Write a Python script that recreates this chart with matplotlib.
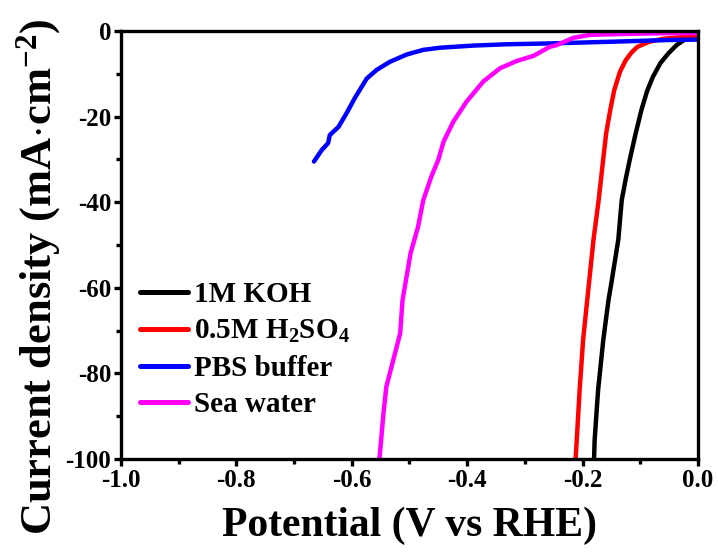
import matplotlib
matplotlib.use("Agg")
import matplotlib.pyplot as plt
from matplotlib.ticker import MultipleLocator, FormatStrFormatter

# Polarization curves (potential in V vs RHE, current density in mA/cm^2)
koh_v = [-0.180, -0.179, -0.173, -0.164, -0.155, -0.150, -0.138, -0.132, -0.125,
         -0.118, -0.108, -0.098, -0.088, -0.078, -0.065, -0.051, -0.037, -0.024,
         -0.010, 0.0]
koh_j = [-100.0, -95.6, -83.9, -72.2, -62.9, -58.9, -48.8, -39.5, -34.5,
         -30.0, -24.0, -18.5, -14.0, -10.7, -7.5, -5.2, -3.3, -2.1,
         -1.6, -1.5]

h2so4_v = [-0.212, -0.210, -0.205, -0.199, -0.190, -0.181, -0.172, -0.165, -0.159,
           -0.152, -0.145, -0.135, -0.125, -0.115, -0.105, -0.084, -0.060, -0.035, 0.0]
h2so4_j = [-100.0, -95.6, -83.9, -72.2, -60.5, -48.8, -39.5, -31.0, -23.9,
           -18.5, -13.8, -9.5, -6.8, -5.0, -3.7, -2.5, -1.8, -1.5, -1.3]

pbs_v = [-0.6655, -0.652, -0.641, -0.638, -0.623, -0.609, -0.594, -0.574, -0.557,
         -0.534, -0.505, -0.476, -0.447, -0.389, -0.332, -0.257, -0.150, -0.050, 0.0]
pbs_j = [-30.5, -27.8, -26.2, -24.3, -22.4, -19.2, -15.5, -11.1, -9.1,
         -7.2, -5.5, -4.4, -3.9, -3.4, -3.1, -2.9, -2.5, -2.1, -2.0]

sea_v = [-0.552, -0.545, -0.540, -0.525, -0.516, -0.512, -0.505, -0.498, -0.485,
         -0.476, -0.462, -0.450, -0.441, -0.424, -0.401, -0.372, -0.343, -0.314,
         -0.285, -0.257, -0.245, -0.216, -0.187, -0.135, -0.050, 0.0]
sea_j = [-100.0, -89.3, -83.1, -75.3, -70.6, -62.9, -57.4, -51.9, -45.7,
         -39.5, -34.0, -30.1, -25.9, -21.2, -16.5, -11.8, -8.7, -7.0,
         -5.8, -3.7, -3.3, -1.6, -0.9, -0.7, -0.5, -0.5]

labels = ["1M KOH", r"0.5M H$_2$SO$_4$", "PBS buffer", "Sea water"]
colors = ["black", "#ff0000", "#0000ff", "#ff00ff"]

x_ticks = [-1.0, -0.8, -0.6, -0.4, -0.2, 0.0]
y_ticks = [0, -20, -40, -60, -80, -100]

plt.rcParams["font.family"] = ["Liberation Serif", "DejaVu Serif"]
plt.rcParams["font.weight"] = "bold"
plt.rcParams["mathtext.fontset"] = "custom"
plt.rcParams["mathtext.rm"] = "Liberation Serif:bold"
plt.rcParams["mathtext.it"] = "Liberation Serif:italic:bold"
plt.rcParams["mathtext.bf"] = "Liberation Serif:bold"
plt.rcParams["axes.unicode_minus"] = False

fig = plt.figure(figsize=(7.18, 5.59), dpi=100)
ax = fig.add_axes([0.1685, 0.1789, 0.8035, 0.7656])

series = [(koh_v, koh_j), (h2so4_v, h2so4_j), (pbs_v, pbs_j), (sea_v, sea_j)]
for (v, j), lab, col in zip(series, labels, colors):
    ax.plot(v, j, color=col, lw=3.2, label=lab, solid_capstyle="round",
            solid_joinstyle="round")

ax.set_xlim(-1.0, 0.0)
ax.set_ylim(-100, 0)
ax.set_xticks(x_ticks)
ax.set_yticks(y_ticks)
ax.xaxis.set_minor_locator(MultipleLocator(0.1))
ax.yaxis.set_minor_locator(MultipleLocator(10))
ax.xaxis.set_major_formatter(FormatStrFormatter("%.1f"))
ax.yaxis.set_major_formatter(FormatStrFormatter("%d"))

for sp in ax.spines.values():
    sp.set_linewidth(2.4)
ax.tick_params(which="major", direction="out", length=5, width=2.4,
               labelsize=18, pad=2)
ax.tick_params(which="minor", direction="out", length=3.5, width=2.4)
ax.tick_params(top=False, right=False, which="both")

ax.set_xlabel("Potential (V vs RHE)", fontsize=30, fontweight="bold", labelpad=11)
ax.set_ylabel(r"Current density (mA$\cdot$cm$^{\mathregular{-2}}$)", fontsize=32,
              fontweight="bold")
ax.yaxis.set_label_coords(-0.100, 0.425)

leg = ax.legend(loc="upper left", bbox_to_anchor=(0.033, 0.415), frameon=False,
                fontsize=21, handlelength=1.65, handletextpad=0.2,
                labelspacing=0.33, borderpad=0.0, borderaxespad=0.0)
for line in leg.get_lines():
    line.set_linewidth(3.6)

fig.savefig("out.png", dpi=100)
